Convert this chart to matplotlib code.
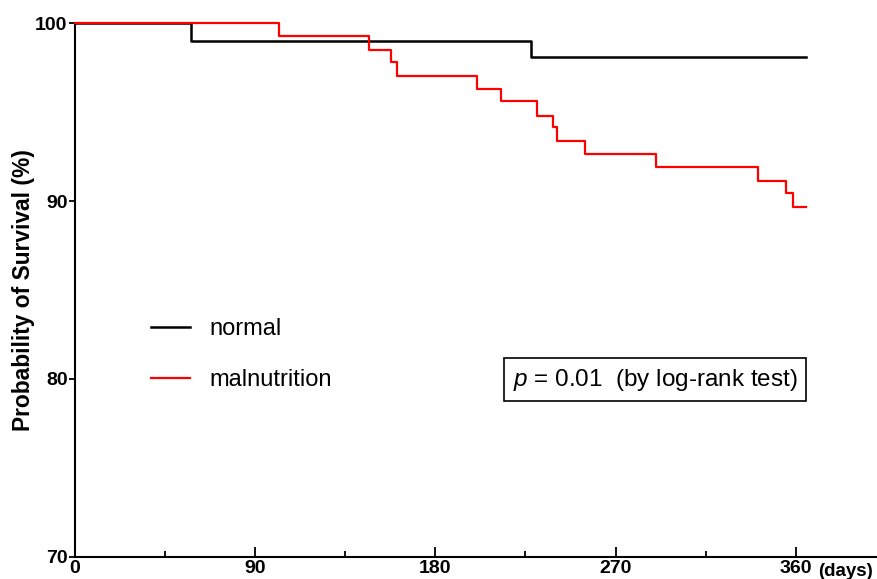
import matplotlib.pyplot as plt
from matplotlib.ticker import MultipleLocator

plt.rcParams['font.family'] = ['Liberation Sans', 'DejaVu Sans']
plt.rcParams['mathtext.fontset'] = 'custom'
plt.rcParams['mathtext.it'] = 'Liberation Sans:italic'
plt.rcParams['mathtext.rm'] = 'Liberation Sans'

# Kaplan-Meier steps (days, % surviving)
normal_days = [0, 58, 228, 365]
normal_surv = [100, 99.0, 98.1, 98.1]

maln_days = [0, 102, 147, 158, 161, 201, 213, 231, 239, 241, 255, 290, 341, 355, 358.5, 365]
maln_surv = [100, 99.29, 98.50, 97.81, 97.04, 96.29, 95.63, 94.79, 94.15, 93.38,
             92.63, 91.89, 91.13, 90.44, 89.65, 89.65]

x_ticks = [0, 90, 180, 270, 360]
y_ticks = [70, 80, 90, 100]

fig = plt.figure(figsize=(8.78, 5.79), dpi=100)
ax = fig.add_axes([0.0849, 0.0385, 0.9128, 0.9213])

ax.step(maln_days, maln_surv, where='post', color='#ff0000', lw=1.6,
        label='malnutrition', clip_on=False, zorder=3)
ax.step(normal_days, normal_surv, where='post', color='black', lw=1.8,
        label='normal', clip_on=False, zorder=2)

ax.set_xlim(0, 400)
ax.set_ylim(70, 100)
ax.set_xticks(x_ticks)
ax.set_yticks(y_ticks)
ax.xaxis.set_minor_locator(MultipleLocator(45))

for s in ['top', 'right']:
    ax.spines[s].set_visible(False)
for s in ['left', 'bottom']:
    ax.spines[s].set_linewidth(1.5)

ax.tick_params(axis='x', which='major', direction='in', length=7, width=1.3,
               pad=2.5, labelsize=14)
ax.tick_params(axis='x', which='minor', direction='in', length=4, width=1.3)
ax.tick_params(axis='y', which='major', direction='out', length=4, width=1.3,
               pad=1, labelsize=14)
for lab in ax.get_xticklabels() + ax.get_yticklabels():
    lab.set_fontweight('bold')

ax.set_ylabel('Probability of Survival (%)', fontsize=16.4, fontweight='bold', labelpad=0)

ax.annotate('(days)', xy=(385, 0), xycoords=('data', 'axes fraction'),
            xytext=(0, -4.5), textcoords='offset points', ha='center', va='top',
            fontsize=13.5, fontweight='bold')

handles, labels = ax.get_legend_handles_labels()
leg = ax.legend(handles[::-1], labels[::-1], loc='center left',
                bbox_to_anchor=(0.1716, 0.3875), bbox_transform=fig.transFigure,
                frameon=False, fontsize=17, handlelength=1.65, handletextpad=0.85,
                labelspacing=1.2, borderpad=0, borderaxespad=0)

ax.text(289.7, 79.94, r'$p$ = 0.01  (by log-rank test)', ha='center', va='center',
        fontsize=17.5,
        bbox=dict(boxstyle='square,pad=0.35', fc='white', ec='black', lw=1.2))

fig.savefig('out.png', dpi=100)
